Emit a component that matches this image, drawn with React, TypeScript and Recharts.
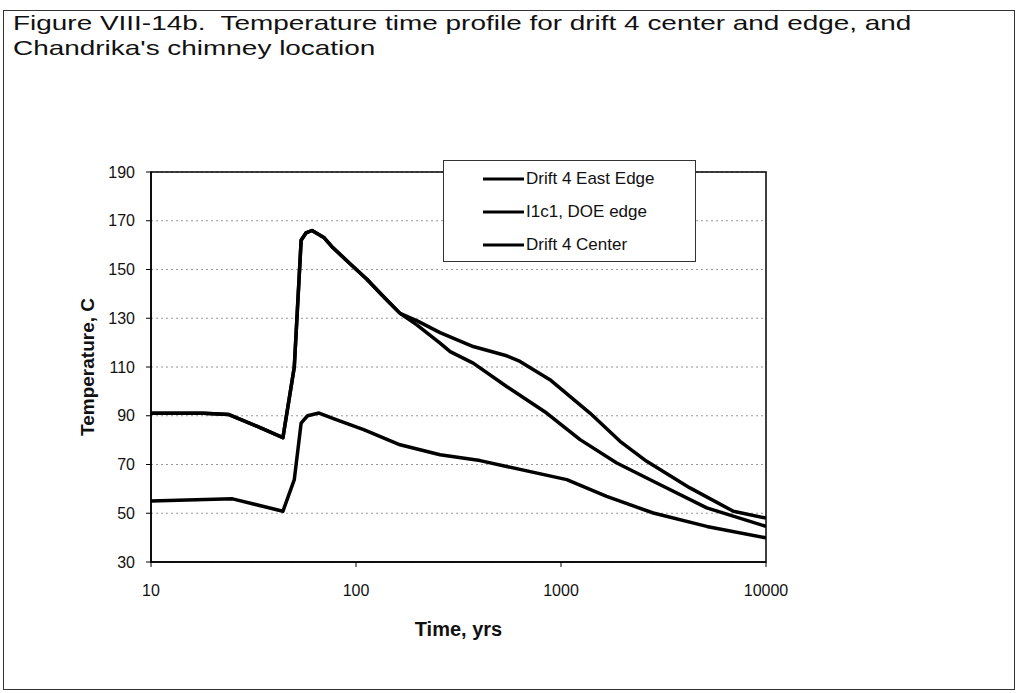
import React from 'react';
import { LineChart, Line, XAxis, YAxis, CartesianGrid, Legend, ReferenceArea } from 'recharts';

const FONT = 'Arial, "Liberation Sans", Helvetica, sans-serif';

// legend order as in the figure
const seriesNames = ['Drift 4 East Edge', 'I1c1, DOE edge', 'Drift 4 Center'];

const xTicks = [10, 100, 1000, 10000];
const yTicks = [30, 50, 70, 90, 110, 130, 150, 170, 190];

// (time in yrs, temperature in C)
const eastEdgeYears = [10, 18, 24, 33, 44, 50, 54, 57, 61, 70, 77, 93, 113, 136, 164, 200, 257, 373, 543, 631, 883, 1384, 1941, 2618, 4256, 6932, 10000];
const eastEdgeTemps = [91, 91, 90.5, 85.6, 81, 110, 162, 165, 166, 163, 159, 152.6, 146, 138.9, 132, 128.8, 124.1, 118.4, 114.6, 112.3, 104.8, 91.1, 79.5, 71.3, 60.4, 50.8, 48];

const doeEdgeYears = [10, 18, 24, 33, 44, 50, 54, 57, 61, 70, 77, 93, 113, 136, 164, 198, 257, 288, 373, 543, 851, 1239, 1871, 2930, 5140, 10000];
const doeEdgeTemps = [91, 91, 90.5, 85.6, 81, 110, 162, 165, 166, 163, 159, 152.6, 146, 138.9, 132, 127.3, 119.8, 116.3, 111.6, 102, 91.1, 80.2, 70.6, 62.4, 52.2, 44.6];

const centerYears = [10, 25, 44, 50, 54, 58, 66, 80, 109, 136, 164, 257, 403, 543, 1067, 1670, 2820, 5140, 10000];
const centerTemps = [55, 55.9, 50.8, 63.8, 87, 90, 91.1, 88.4, 84.3, 80.9, 78.1, 74, 71.6, 69.2, 63.8, 56.9, 50.1, 44.6, 39.9];

const toPoints = (years: number[], temps: number[]) => years.map((t, i) => ({ t, temp: temps[i] }));

const eastEdge = toPoints(eastEdgeYears, eastEdgeTemps);
const doeEdge = toPoints(doeEdgeYears, doeEdgeTemps);
const center = toPoints(centerYears, centerTemps);

const tickStyle = { fontSize: 16, fill: '#111', fontFamily: FONT };

const LegendBox = ({ payload }: any) => {
  // keep the figure's order, not alphabetical
  const items = seriesNames.map((name) => ({
    name,
    color: (payload || []).find((p: any) => p.value === name)?.color || '#000',
  }));
  return (
    <div style={{
      width: 253, height: 102, boxSizing: 'border-box', border: '1px solid #333', background: '#fff',
      fontFamily: FONT, fontSize: 17, color: '#111', paddingTop: 1,
    }}>
      {items.map((it) => (
        <div key={it.name} style={{ display: 'flex', alignItems: 'center', height: 33 }}>
          <svg width={80} height={6} style={{ flex: 'none' }}>
            <line x1={39} x2={80} y1={3} y2={3} stroke={it.color} strokeWidth={3} />
          </svg>
          <span style={{ marginLeft: 2, whiteSpace: 'nowrap' }}>{it.name}</span>
        </div>
      ))}
    </div>
  );
};

export default function App() {
  return (
    <div style={{ position: 'relative', width: 1028, height: 693, background: '#fff' }}>
      <style>{'body{margin:0;background:#fff}'}</style>
      <div style={{
        position: 'absolute', left: 3, top: 10, width: 1012, height: 680,
        border: '1px solid #333', boxSizing: 'border-box',
      }} />
      <div style={{
        position: 'absolute', left: 13, top: 10, fontFamily: FONT, fontSize: 21, lineHeight: '25px',
        color: '#111', transform: 'scaleX(1.33)', transformOrigin: 'left top', whiteSpace: 'nowrap',
      }}>
        <div>Figure VIII-14b.&nbsp; Temperature time profile for drift 4 center and edge, and</div>
        <div>Chandrika's chimney location</div>
      </div>
      <div style={{ position: 'absolute', left: 0, top: 0 }}>
        <LineChart width={1028} height={693} margin={{ top: 172, right: 262, bottom: 71, left: 81 }}>
          <CartesianGrid vertical={false} stroke="#999" strokeDasharray="2 3" />
          <XAxis
            type="number"
            dataKey="t"
            scale="log"
            domain={[10, 10000]}
            ticks={xTicks}
            interval={0}
            allowDataOverflow
            height={60}
            tickSize={5}
            tickMargin={18}
            tick={tickStyle}
            axisLine={{ stroke: '#000', strokeWidth: 1.5 }}
            tickLine={{ stroke: '#000' }}
            label={{
              content: ({ viewBox }: any) => (
                <text x={viewBox.x + viewBox.width / 2} y={viewBox.y + 74} textAnchor="middle"
                  style={{ fontFamily: FONT, fontSize: 20, fontWeight: 'bold', fill: '#111' }}>
                  Time, yrs
                </text>
              ),
            }}
          />
          <YAxis
            type="number"
            domain={[30, 190]}
            ticks={yTicks}
            interval={0}
            width={70}
            tickSize={5}
            tickMargin={11}
            tick={tickStyle}
            axisLine={{ stroke: '#000', strokeWidth: 1.5 }}
            tickLine={{ stroke: '#000' }}
            label={{
              content: ({ viewBox }: any) => {
                const x = viewBox.x + 13;
                const y = viewBox.y + viewBox.height / 2;
                return (
                  <text x={x} y={y} textAnchor="middle" transform={`rotate(-90, ${x}, ${y})`}
                    style={{ fontFamily: FONT, fontSize: 19, fontWeight: 'bold', fill: '#111' }}>
                    Temperature, C
                  </text>
                );
              },
            }}
          />
          <ReferenceArea x1={10} x2={10000} y1={30} y2={190} fill="none" stroke="#000" strokeWidth={1.5} />
          <Legend
            layout="vertical"
            align="center"
            verticalAlign="middle"
            content={<LegendBox />}
            wrapperStyle={{ left: 443, top: 160, width: 253, height: 102 }}
          />
          <Line data={eastEdge} dataKey="temp" name={seriesNames[0]} type="linear" stroke="#000"
            strokeWidth={3.5} strokeLinejoin="round" dot={false} isAnimationActive={false} />
          <Line data={doeEdge} dataKey="temp" name={seriesNames[1]} type="linear" stroke="#000"
            strokeWidth={3.5} strokeLinejoin="round" dot={false} isAnimationActive={false} />
          <Line data={center} dataKey="temp" name={seriesNames[2]} type="linear" stroke="#000"
            strokeWidth={3.5} strokeLinejoin="round" dot={false} isAnimationActive={false} />
        </LineChart>
      </div>
    </div>
  );
}
